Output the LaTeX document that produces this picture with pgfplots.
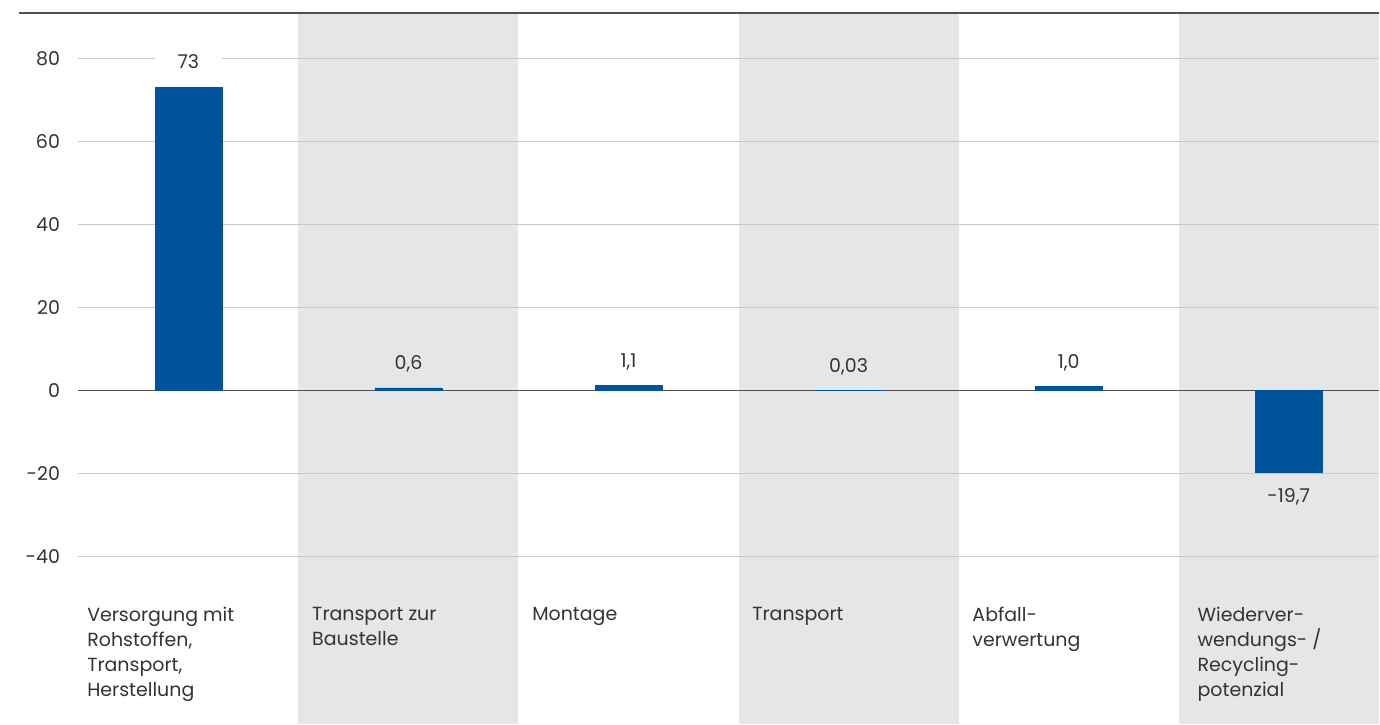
\documentclass[border=0pt]{standalone}
\usepackage{pgfplots}
\pgfplotsset{compat=1.18}
\usepackage{pgfplotstable}
\usepackage{fontspec}
\setmainfont{Poppins}
\definecolor{barblue}{RGB}{0,82,155}
\definecolor{band}{RGB}{229,230,232}
\definecolor{gridc}{RGB}{200,200,200}
\definecolor{txt}{RGB}{51,51,51}
\definecolor{zeroc}{RGB}{80,80,80}
\newcommand{\lblfont}{\fontsize{9.5}{12.5}\selectfont}
\pgfplotstableread{
x y lab
0 73 73
}\firsttab
\pgfplotstableread{
x y lab
1 0.6 {0,6}
2 1.1 {1,1}
3 0.03 {0,03}
4 1.0 {1,0}
}\midtab
\pgfplotstableread{
x y lab
5 -19.7 {-19,7}
}\lasttab
\begin{document}
\begin{tikzpicture}
\begin{axis}[
  set layers,
  scale only axis, width=651pt, height=356pt,
  xmin=-0.5, xmax=5.411, ymin=-80.55, ymax=91,
  axis line style={draw=none}, tick style={draw=none},
  xtick=\empty,
  ytick={-40,-20,0,20,40,60,80},
  yticklabels={-40,-20,0,20,40,60,80},
  yticklabel style={font=\lblfont, text=txt, anchor=east, inner sep=0pt, xshift=-9pt},
  ymajorgrids, grid style={gridc, line width=0.5pt},
  extra y ticks={0}, extra y tick labels={},
  extra y tick style={grid style={zeroc, line width=0.8pt}},
  clip=false,
  ybar, bar width=0.304,
]
\begin{pgfonlayer}{axis background}
\fill[band] (axis cs:0.5,-80.55) rectangle (axis cs:1.5,91);
\fill[band] (axis cs:2.5,-80.55) rectangle (axis cs:3.5,91);
\fill[band] (axis cs:4.5,-80.55) rectangle (axis cs:5.411,91);
\end{pgfonlayer}
\addplot[bar shift=0pt, fill=barblue, draw=barblue, line width=0.3pt,
  point meta=explicit symbolic, nodes near coords,
  nodes near coords style={font=\lblfont, text=txt, fill=white, inner sep=0pt, minimum width=33.5pt, minimum height=16pt, anchor=south, yshift=5pt}]
  table[x=x, y=y, meta=lab] {\firsttab};
\addplot[bar shift=0pt, fill=barblue, draw=barblue, line width=0.3pt,
  point meta=explicit symbolic, nodes near coords,
  nodes near coords style={font=\lblfont, text=txt, inner sep=0pt, anchor=south, yshift=7.5pt}]
  table[x=x, y=y, meta=lab] {\midtab};
\addplot[bar shift=0pt, fill=barblue, draw=barblue, line width=0.3pt,
  point meta=explicit symbolic, nodes near coords,
  nodes near coords style={font=\lblfont, text=txt, inner sep=0pt, anchor=north, yshift=-8pt}]
  table[x=x, y=y, meta=lab] {\lasttab};
\draw[zeroc, line width=0.8pt] ([xshift=-29.7pt]rel axis cs:0,1) -- (rel axis cs:1,1);
\path ([xshift=-39.2pt,yshift=6.5pt]rel axis cs:0,1) coordinate (bbx);
\begin{scope}[every node/.style={anchor=north west, align=left, inner sep=0pt, font=\lblfont, text=txt}]
\node at (axis cs:-0.461,-52.2) {Versorgung mit\\Rohstoffen,\\Transport,\\Herstellung};
\node at (axis cs:0.561,-52.2) {Transport zur\\Baustelle};
\node at (axis cs:1.561,-52.2) {Montage};
\node at (axis cs:2.561,-52.2) {Transport};
\node at (axis cs:3.561,-52.2) {Abfall-\\verwertung};
\node at (axis cs:4.584,-52.2) {Wiederver-\\wendungs- /\\Recycling-\\potenzial};
\end{scope}
\end{axis}
\end{tikzpicture}
\end{document}
